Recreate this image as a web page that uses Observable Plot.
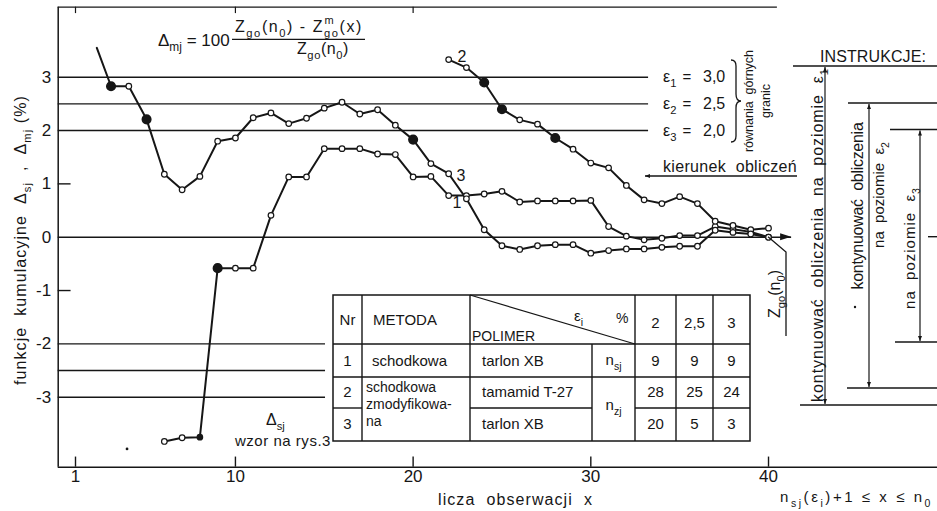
<!DOCTYPE html>
<html><head><meta charset="utf-8">
<script src="https://cdn.jsdelivr.net/npm/d3@7"></script>
<script src="https://cdn.jsdelivr.net/npm/@observablehq/plot@0.6"></script>
<style>
body{margin:0;background:#fff;}
#chart{position:relative;width:937px;height:511px;overflow:hidden;}
</style></head><body><div id="chart"></div>
<script>
// ---------------- data ----------------
const xTicks = [1, 10, 20, 30, 40];
const yTicks = [3, 2, 1, 0, -1, -2, -3];
const epsLevels = [3.0, 2.5, 2.0];
const epsNames = ["ε_{1}", "ε_{2}", "ε_{3}"];
const epsValues = ["3,0", "2,5", "2,0"];
const negLevels = [-2, -2.5, -3];
const minorLevels = [1, -1];

// curve 1: schodkowa, tarlon XB
const curve1X = [6,7,8,9,10,11,12,13,14,15,16,17,18,19,20,21,22,23,24,25,26,27,28,29,30,31,32,33,34,35,36,37,38,39,40];
const curve1Y = [-3.83,-3.76,-3.75,-0.58,-0.58,-0.58,0.41,1.13,1.13,1.66,1.66,1.66,1.56,1.55,1.13,1.14,0.78,0.78,0.81,0.86,0.66,0.68,0.68,0.68,0.69,0.20,0.02,-0.05,-0.02,0.03,0.03,0.20,0.15,0.10,0];
const curve1Filled = [9];
const curve1Small = [8];
// curve 2: schodkowa zmodyfikowana, tamamid T-27
const curve2X = [22,23,24,25,26,27,28,29,30,31,32,33,34,35,36,37,38,39,40];
const curve2Y = [3.33,3.18,2.90,2.40,2.20,2.12,1.86,1.65,1.39,1.30,0.97,0.70,0.63,0.76,0.63,0.30,0.22,0.14,0.17];
const curve2Filled = [24, 25, 28];
// curve 3: schodkowa zmodyfikowana, tarlon XB
const curve3X = [2.2,3,4,5,6,7,8,9,10,11,12,13,14,15,16,17,18,19,20,21,22,23,24,25,26,27,28,29,30,31,32,33,34,35,36,37,38,39,40];
const curve3Y = [3.55,2.83,2.83,2.21,1.18,0.89,1.14,1.80,1.86,2.24,2.33,2.13,2.23,2.42,2.53,2.31,2.39,2.10,1.83,1.38,1.19,0.72,0.14,-0.16,-0.23,-0.16,-0.14,-0.14,-0.30,-0.25,-0.22,-0.22,-0.19,-0.17,-0.17,0.13,0.09,0.06,0];
const curve3Filled = [3, 5, 20];
const strayX = [3.9], strayY = [-3.97];

// table
const tableHead = ["Nr", "METODA", "POLIMER"];
const tableNr = ["1", "2", "3"];
const methodLines = ["schodkowa", "schodkowa", "zmodyfikowa-", "na"];
const tablePolymer = ["tarlon XB", "tamamid T-27", "tarlon XB"];
const epsHeader = ["2", "2,5", "3"];
const nSymbols = ["n_{sj}", "n_{zj}"];
const nRow1 = [9, 9, 9], nRow2 = [28, 25, 24], nRow3 = [20, 5, 3];

// ---------------- layout ----------------
const W = 937, H = 511;
const mL = 57.7, mT = 6.7, mB = 44.3, mR = 0;
const xDom = [0.0264, 49.51], yDom = [-4.3125, 4.3125];
const INK = "#161616";
const FONT = "'Liberation Sans', Arial, sans-serif";

const mk = (X, Y, id) => X.map((x, i) => ({x, y: Y[i], id}));
const c1 = mk(curve1X, curve1Y, 1), c2 = mk(curve2X, curve2Y, 2), c3 = mk(curve3X, curve3Y, 3);
const filledSet = {1: curve1Filled, 2: curve2Filled, 3: curve3Filled};
const allPts = [...c1, ...c2, ...c3].filter(d => Number.isInteger(d.x));
const filledPts = allPts.filter(d => filledSet[d.id].includes(d.x));
const smallPts = c1.filter(d => curve1Small.includes(d.x));
const openPts = allPts.filter(d => !filledSet[d.id].includes(d.x) && !(d.id === 1 && curve1Small.includes(d.x)));

const chart = Plot.plot({
  width: W, height: H,
  marginLeft: mL, marginRight: mR, marginTop: mT, marginBottom: mB,
  x: {domain: xDom},
  y: {domain: yDom},
  style: {background: "white", fontFamily: FONT, fontSize: "16px", color: INK},
  marks: [
    Plot.ruleY(epsLevels, {x1: xDom[0], x2: 33.25, stroke: INK, strokeWidth: 1.4}),
    Plot.ruleY(negLevels, {x1: xDom[0], x2: 15.07, stroke: INK, strokeWidth: 1.4}),
    Plot.ruleY(minorLevels, {x1: xDom[0], x2: 0.75, stroke: INK, strokeWidth: 1.4}),
    Plot.ruleY([0], {x1: xDom[0], x2: 41.3, stroke: INK, strokeWidth: 1.4}),
    Plot.ruleX([xDom[0]], {stroke: INK, strokeWidth: 1.5}),
    Plot.ruleY([yDom[0]], {stroke: INK, strokeWidth: 1.5}),
    Plot.ruleY([yDom[1]], {x1: xDom[0], x2: 40.5, stroke: INK, strokeWidth: 1.3}),
    Plot.ruleX(xTicks, {y1: yDom[0], y2: yDom[0] + 0.19, stroke: INK, strokeWidth: 1.4}),
    Plot.ruleX(xTicks.slice(0, 3), {y1: yDom[1], y2: yDom[1] - 0.12, stroke: INK, strokeWidth: 1.2}),
    Plot.axisX(xTicks, {anchor: "bottom", tickSize: 0, tickPadding: 3, fontSize: 17, label: null, tickFormat: d => String(d)}),
    Plot.axisY(yTicks, {anchor: "left", tickSize: 0, tickPadding: 7, fontSize: 17, label: null, tickFormat: d => String(d)}),
    Plot.line(c1, {x: "x", y: "y", stroke: INK, strokeWidth: 2}),
    Plot.line(c2, {x: "x", y: "y", stroke: INK, strokeWidth: 2}),
    Plot.line(c3, {x: "x", y: "y", stroke: INK, strokeWidth: 2}),
    Plot.dot(openPts, {x: "x", y: "y", r: 2.8, fill: "white", stroke: INK, strokeWidth: 1.2}),
    Plot.dot(filledPts, {x: "x", y: "y", r: 4.3, fill: INK, stroke: INK}),
    Plot.dot(smallPts, {x: "x", y: "y", r: 2.6, fill: INK, stroke: INK}),
    Plot.dot(strayX.map((x, i) => ({x, y: strayY[i]})), {x: "x", y: "y", r: 1.4, fill: INK})
  ]
});
document.getElementById("chart").appendChild(chart);

// ---------------- annotations (d3) ----------------
const svg = d3.select(chart);
const sx = chart.scale("x"), sy = chart.scale("y");
const defs = svg.append("defs");
defs.append("marker").attr("id", "ah").attr("viewBox", "0 0 10 10").attr("refX", 10).attr("refY", 5)
  .attr("markerWidth", 11).attr("markerHeight", 5).attr("markerUnits", "userSpaceOnUse")
  .attr("orient", "auto-start-reverse")
  .append("path").attr("d", "M0,1 L10,5 L0,9 Z").attr("fill", INK);

const g = svg.append("g").attr("font-family", FONT).attr("fill", INK);

function addRich(t, str, fs) {
  const re = /([_^])\{([^}]*)\}/g;
  let last = 0, m, shift = 0;
  const parts = [];
  while ((m = re.exec(str))) {
    if (m.index > last) parts.push({t: str.slice(last, m.index), k: ""});
    parts.push({t: m[2], k: m[1]});
    last = re.lastIndex;
  }
  if (last < str.length) parts.push({t: str.slice(last), k: ""});
  for (const p of parts) {
    const target = p.k === "_" ? fs * 0.32 : p.k === "^" ? -fs * 0.45 : 0;
    const ts = t.append("tspan").text(p.t).attr("dy", target - shift);
    if (p.k) ts.attr("font-size", fs * 0.7);
    shift = target;
  }
}
function txt(str, o) {
  const fs = o.fs || 16;
  let parent = g, x = o.x, y = o.y;
  if (o.rot) {
    parent = g.append("g").attr("transform", `translate(${o.x},${o.y}) rotate(-90)`);
    x = 0; y = fs * 0.35;
  }
  const t = parent.append("text").attr("x", x).attr("y", y).attr("font-size", fs)
    .attr("text-anchor", o.anchor || (o.rot ? "middle" : "start"))
    .style("white-space", "pre");
  addRich(t, str, fs);
  if (o.len) {
    const nat = t.node().getComputedTextLength();
    const n = t.text().length;
    t.attr("letter-spacing", ((o.len - nat) / n).toFixed(2));
  }
  return t;
}
function line(x1, y1, x2, y2, w = 1.4) {
  return g.append("line").attr("x1", x1).attr("y1", y1).attr("x2", x2).attr("y2", y2)
    .attr("stroke", INK).attr("stroke-width", w);
}

// axis titles
txt("funkcje  kumulacyjne  Δ_{sj}  ,  Δ_{mj} (%)", {x: 20, y: 240, rot: true, fs: 16, len: 290});
txt("licza  obserwacji  x", {x: 438, y: 505, fs: 16, len: 155});
txt("n_{sj}(ε_{i})+1 ≤ x ≤ n_{0}", {x: 780, y: 502, fs: 15, len: 153});

// zero-line arrow head
const zx = sx.apply(41.3), zy = sy.apply(0);
g.append("path").attr("d", `M${zx},${zy} l-11,-3.5 l0,7 z`).attr("fill", INK);
line(928, zy, 937, zy);

// formula
txt("Δ_{mj} = 100", {x: 158, y: 46, fs: 17});
line(232, 39.3, 365, 39.3, 1.3);
const num = txt("Z_{go}(n_{0}) - Z_{go}(x)", {x: 235, y: 32, fs: 16, len: 128});
{
  const e = num.node().getEndPositionOfChar(10);
  txt("m", {x: e.x + 0.5, y: 24, fs: 11});
}
txt("Z_{go}(n_{0})", {x: 297, y: 54, fs: 16, len: 52});

// curve labels
txt("2", {x: 462, y: 61.5, fs: 16, anchor: "middle"});
txt("3", {x: 461, y: 181, fs: 16, anchor: "middle"});
txt("1", {x: 457, y: 208, fs: 16, anchor: "middle"});

// epsilon labels
epsLevels.forEach((v, i) => {
  const y = sy.apply(v) + 5.5;
  txt(epsNames[i], {x: 663, y, fs: 16});
  txt("=", {x: 687, y, fs: 15, anchor: "middle"});
  txt(epsValues[i], {x: 703, y, fs: 16});
});
g.append("path").attr("d", "M731,60 Q736,60 736,66 L736,94 Q736,101 741,101 Q736,101 736,108 L736,136 Q736,142 731,142")
  .attr("fill", "none").attr("stroke", INK).attr("stroke-width", 1.3);
txt("równania  górnych", {x: 749, y: 101, rot: true, fs: 12.5});
txt("granic", {x: 766, y: 101, rot: true, fs: 12.5});

// direction arrow
txt("kierunek  obliczeń", {x: 663, y: 172, fs: 16, len: 134});
line(797, 176, 645, 176, 1.3).attr("marker-end", "url(#ah)");

// Z_go(n0) leader
g.append("path").attr("d", `M${sx.apply(40)},${sy.apply(0)} L786,252 L786,336`)
  .attr("fill", "none").attr("stroke", INK).attr("stroke-width", 1.3);
txt("Z_{go}(n_{0})", {x: 774, y: 294, rot: true, fs: 16});

// Δsj note
txt("Δ_{sj}", {x: 266, y: 425, fs: 16});
txt("wzor na rys.3", {x: 235, y: 446, fs: 15, len: 96});

// ---------------- table ----------------
const TC = [333, 362, 470, 592, 635, 676, 713, 750];
const TR = [295, 344, 377, 408, 441];
g.append("rect").attr("x", TC[0]).attr("y", TR[0]).attr("width", TC[7] - TC[0]).attr("height", TR[4] - TR[0])
  .attr("fill", "white").attr("stroke", INK).attr("stroke-width", 1.5);
[1, 2, 4, 5, 6].forEach(i => line(TC[i], TR[0], TC[i], TR[4]));
line(TC[3], TR[1], TC[3], TR[4]);
line(TC[0], TR[1], TC[7], TR[1]);
line(TC[0], TR[2], TC[7], TR[2]);
line(TC[0], TR[3], TC[1], TR[3]);
line(TC[2], TR[3], TC[3], TR[3]);
line(TC[4], TR[3], TC[7], TR[3]);
line(TC[2], TR[0], TC[4], TR[1], 1.2);

const colC = i => (TC[i] + TC[i + 1]) / 2;
txt(tableHead[0], {x: colC(0), y: 325, fs: 15, anchor: "middle"});
txt(tableHead[1], {x: 373, y: 325, fs: 15});
txt(tableHead[2], {x: 472, y: 341, fs: 14});
txt("ε_{i}", {x: 574, y: 321, fs: 15});
txt("%", {x: 616, y: 323, fs: 14});
epsHeader.forEach((s, i) => txt(s, {x: colC(4 + i), y: 328, fs: 15, anchor: "middle"}));

const rowBase = [366, 397, 429];
tableNr.forEach((s, i) => txt(s, {x: colC(0), y: rowBase[i], fs: 15, anchor: "middle"}));
txt(methodLines[0], {x: 372, y: 366, fs: 15});
txt(methodLines[1], {x: 366, y: 392, fs: 14});
txt(methodLines[2], {x: 366, y: 409, fs: 14});
txt(methodLines[3], {x: 366, y: 426, fs: 14});
tablePolymer.forEach((s, i) => txt(s, {x: 482, y: rowBase[i], fs: 15}));
txt(nSymbols[0], {x: colC(3), y: 365, fs: 15, anchor: "middle"});
txt(nSymbols[1], {x: colC(3), y: 410, fs: 15, anchor: "middle"});
[nRow1, nRow2, nRow3].forEach((row, r) =>
  row.forEach((v, i) => txt(String(v), {x: colC(4 + i), y: rowBase[r], fs: 15, anchor: "middle"})));

// ---------------- instructions ----------------
txt("INSTRUKCJE:", {x: 820, y: 62, fs: 16, len: 106});
line(793, 66, 937, 66); line(800, 405, 937, 405);
line(825, 67, 825, 404, 1.2).attr("marker-start", "url(#ah)").attr("marker-end", "url(#ah)");
txt("kontynuować  obliczenia  na  poziomie  ε_{1}", {x: 817, y: 235, rot: true, fs: 16, len: 334});
line(848, 103, 937, 103); line(847, 388, 937, 388);
line(869, 104, 869, 387, 1.2).attr("marker-start", "url(#ah)").attr("marker-end", "url(#ah)");
txt("kontynuować  obliczenia", {x: 857, y: 206, rot: true, fs: 16, len: 167});
txt("na  poziomie  ε_{2}", {x: 879, y: 195, rot: true, fs: 15});
g.append("circle").attr("cx", 855).attr("cy", 307).attr("r", 1.2).attr("fill", INK);
line(890, 129.5, 937, 129.5); line(895, 342, 937, 342);
line(920, 130.5, 920, 341, 1.2).attr("marker-start", "url(#ah)").attr("marker-end", "url(#ah)");
txt("na  poziomie  ε_{3}", {x: 910, y: 248, rot: true, fs: 15, len: 122});
</script></body></html>
